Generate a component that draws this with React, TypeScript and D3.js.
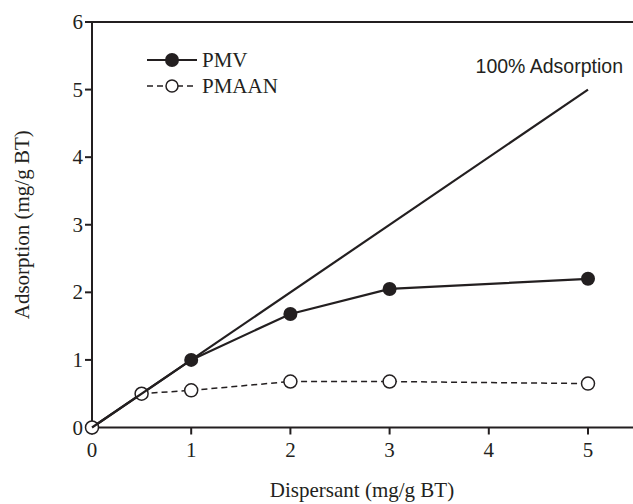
import React from "react";
import * as d3 from "d3";

const xTicks = [0, 1, 2, 3, 4, 5];
const yTicks = [0, 1, 2, 3, 4, 5, 6];
const idealX = [0, 5];
const idealY = [0, 5];
const pmvX = [0, 1, 2, 3, 5];
const pmvY = [0, 1.0, 1.68, 2.05, 2.2];
const pmaanX = [0, 0.5, 1, 2, 3, 5];
const pmaanY = [0, 0.5, 0.55, 0.68, 0.68, 0.65];
const legendLabels = ["PMV", "PMAAN"];
const idealLabel = "100% Adsorption";
const xTitle = "Dispersant (mg/g BT)";
const yTitle = "Adsorption (mg/g BT)";

const W = 633;
const H = 504;

export default function App() {
  const x = d3.scaleLinear().domain([0, 5]).range([92, 588]);
  const y = d3.scaleLinear().domain([0, 6]).range([427.5, 22]);
  const line = d3
    .line<[number, number]>()
    .x((d) => x(d[0]))
    .y((d) => y(d[1]));
  const zip = (a: number[], b: number[]) => a.map((v, i) => [v, b[i]] as [number, number]);
  const serifStyle = { fontFamily: "Liberation Serif, Times New Roman, Times, serif" };
  const sansStyle = { fontFamily: "Liberation Sans, Arial, Helvetica, sans-serif" };
  const stroke = "#231f20";
  return (
    <svg
      width={W}
      height={H}
      style={{ position: "absolute", left: 0, top: 0, background: "#fff" }}
    >
      {/* axes */}
      <line x1={x(0)} x2={W} y1={y(0)} y2={y(0)} stroke={stroke} strokeWidth={2} />
      <line x1={x(0)} x2={W} y1={y(6)} y2={y(6)} stroke={stroke} strokeWidth={2} />
      <line x1={x(0)} x2={x(0)} y1={y(6) - 1} y2={y(0) + 1} stroke={stroke} strokeWidth={2} />
      {xTicks.map((t) => (
        <g key={"xt" + t}>
          <line x1={x(t)} x2={x(t)} y1={y(0)} y2={y(0) + 7} stroke={stroke} strokeWidth={2} />
          <text
            x={x(t)}
            y={y(0) + 29}
            textAnchor="middle"
            style={serifStyle}
            fontSize={21}
            fill={stroke}
          >
            {t}
          </text>
        </g>
      ))}
      {yTicks.map((t) => (
        <g key={"yt" + t}>
          <line x1={x(0) - 7} x2={x(0)} y1={y(t)} y2={y(t)} stroke={stroke} strokeWidth={2} />
          <text
            x={x(0) - 9}
            y={y(t) + 7}
            textAnchor="end"
            style={serifStyle}
            fontSize={21}
            fill={stroke}
          >
            {t}
          </text>
        </g>
      ))}
      <text
        x={(x(0) + x(5)) / 2 + 22}
        y={497}
        textAnchor="middle"
        style={serifStyle}
        fontSize={21}
        fill={stroke}
      >
        {xTitle}
      </text>
      <text
        transform={`translate(29,${(y(0) + y(6)) / 2}) rotate(-90)`}
        textAnchor="middle"
        style={serifStyle}
        fontSize={21}
        fill={stroke}
      >
        {yTitle}
      </text>

      {/* 100% line */}
      <path d={line(zip(idealX, idealY)) || ""} fill="none" stroke={stroke} strokeWidth={2.2} />
      <text x={x(5) + 35} y={y(5) - 17} textAnchor="end" style={sansStyle} fontSize={19.5} fill={stroke}>
        {idealLabel}
      </text>

      {/* PMAAN */}
      <path
        d={line(zip(pmaanX, pmaanY)) || ""}
        fill="none"
        stroke={stroke}
        strokeWidth={1.5}
        strokeDasharray="6,4"
      />
      {zip(pmaanX, pmaanY).map((d, i) => (
        <circle key={"pa" + i} cx={x(d[0])} cy={y(d[1])} r={6.5} fill="#fff" stroke={stroke} strokeWidth={1.5} />
      ))}

      {/* PMV */}
      <path d={line(zip(pmvX, pmvY)) || ""} fill="none" stroke={stroke} strokeWidth={2.2} />
      {zip(pmvX, pmvY)
        .filter((d) => d[0] > 0)
        .map((d, i) => (
          <circle key={"pv" + i} cx={x(d[0])} cy={y(d[1])} r={7} fill={stroke} />
        ))}

      {/* legend */}
      <g>
        <line x1={147} x2={197} y1={60} y2={60} stroke={stroke} strokeWidth={2.2} />
        <circle cx={172} cy={60} r={7} fill={stroke} />
        <text x={202} y={67} style={serifStyle} fontSize={21} fill={stroke}>
          {legendLabels[0]}
        </text>
        <line x1={147} x2={197} y1={86} y2={86} stroke={stroke} strokeWidth={1.5} strokeDasharray="6,4" />
        <circle cx={172} cy={86} r={6} fill="#fff" stroke={stroke} strokeWidth={1.5} />
        <text x={202} y={93} style={serifStyle} fontSize={21} fill={stroke}>
          {legendLabels[1]}
        </text>
      </g>
    </svg>
  );
}
